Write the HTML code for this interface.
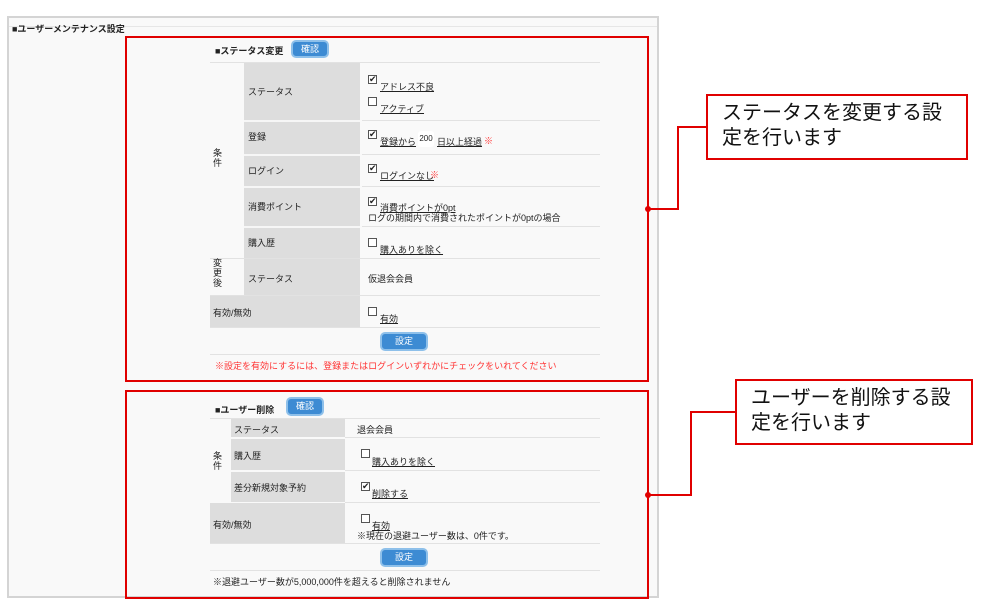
<!DOCTYPE html>
<html><head><meta charset="utf-8"><style>
body{margin:0;width:1001px;height:605px;background:#fff;position:relative;overflow:hidden;font-family:"Liberation Sans","Noto Sans CJK JP",sans-serif;font-size:9px;color:#222}
div{position:absolute;box-sizing:border-box}
.lab{background:#ddd}
.hl{height:1px;background:#e2e2e2}
.btn{background:#3d8bd3;border:2px solid #8ec0ea;border-radius:5px;color:#fff;text-align:center;font-size:9px}
.cb{width:9px;height:9px;border:1px solid #555;background:#fff;font-size:9px;line-height:7px;text-align:center}
.u{text-decoration:underline}
.red{border:2px solid #e00000}
.co{border:2px solid #e00000;background:#fff;font-size:20px;line-height:25px;padding:5px 0 0 14px;color:#111;white-space:nowrap}
.ln{background:#e00000}
.dot{width:6px;height:6px;border-radius:3px;background:#e00000}
</style></head><body>
<div style="left:7px;top:16px;width:652px;height:582px;border:2px solid #d4d4d4;background:#f9f9f9"></div>
<div style="left:9px;top:26px;width:648px;height:1px;background:#e6e6e6"></div>
<div style="left:12px;top:22px;font-weight:bold;font-size:9px">■ユーザーメンテナンス設定</div>

<!-- table 1 -->
<div style="left:215px;top:44px;font-weight:bold">■ステータス変更</div>
<div class="btn" style="left:291px;top:40px;width:38px;height:18px;line-height:14px">確認</div>
<div class="hl" style="left:210px;top:62px;width:390px"></div>
<div class="lab" style="left:244px;top:63px;width:116px;height:232px"></div>
<div class="lab" style="left:210px;top:296px;width:150px;height:31px"></div>
<div class="hl" style="left:362px;top:120px;width:238px"></div>
<div class="hl" style="left:362px;top:154px;width:238px"></div>
<div class="hl" style="left:362px;top:186px;width:238px"></div>
<div class="hl" style="left:362px;top:226px;width:238px"></div>
<div class="hl" style="left:210px;top:258px;width:390px"></div>
<div class="hl" style="left:210px;top:295px;width:390px"></div>
<div class="hl" style="left:210px;top:327px;width:390px"></div>
<div style="left:244px;top:120px;width:116px;height:2px;background:#f6f6f6"></div>
<div style="left:244px;top:154px;width:116px;height:2px;background:#f6f6f6"></div>
<div style="left:244px;top:186px;width:116px;height:2px;background:#f6f6f6"></div>
<div style="left:244px;top:226px;width:116px;height:2px;background:#f6f6f6"></div>
<div style="left:213px;top:148px;width:10px;line-height:10px">条件</div>
<div style="left:213px;top:258px;width:10px;line-height:10px">変更後</div>
<div style="left:248px;top:85px">ステータス</div>
<div style="left:248px;top:130px">登録</div>
<div style="left:248px;top:164px">ログイン</div>
<div style="left:248px;top:200px">消費ポイント</div>
<div style="left:248px;top:236px">購入歴</div>
<div style="left:248px;top:272px">ステータス</div>
<div style="left:213px;top:306px">有効/無効</div>
<div class="cb" style="left:368px;top:75px">✔</div><div class="u" style="left:380px;top:80px">アドレス不良</div>
<div class="cb" style="left:368px;top:97px"></div><div class="u" style="left:380px;top:102px">アクティブ</div>
<div class="cb" style="left:368px;top:130px">✔</div><div class="u" style="left:380px;top:135px">登録から</div>
<div style="left:418px;top:131px;width:16px;height:16px;background:#fff;border-radius:3px;text-align:center;line-height:16px;font-size:8px">200</div>
<div class="u" style="left:437px;top:135px">日以上経過</div><div style="left:484px;top:134px;color:#f33">※</div>
<div class="cb" style="left:368px;top:164px">✔</div><div class="u" style="left:380px;top:169px">ログインなし</div><div style="left:430px;top:168px;color:#f33">※</div>
<div class="cb" style="left:368px;top:197px">✔</div><div class="u" style="left:380px;top:201px">消費ポイントが0pt</div>
<div style="left:368px;top:211px">ログの期間内で消費されたポイントが0ptの場合</div>
<div class="cb" style="left:368px;top:238px"></div><div class="u" style="left:380px;top:243px">購入ありを除く</div>
<div style="left:368px;top:272px">仮退会会員</div>
<div class="cb" style="left:368px;top:307px"></div><div class="u" style="left:380px;top:312px">有効</div>
<div class="btn" style="left:380px;top:332px;width:48px;height:19px;line-height:15px">設定</div>
<div class="hl" style="left:210px;top:354px;width:390px"></div>
<div style="left:215px;top:359px;color:#f33">※設定を有効にするには、登録またはログインいずれかにチェックをいれてください</div>

<!-- table 2 -->
<div style="left:215px;top:403px;font-weight:bold">■ユーザー削除</div>
<div class="btn" style="left:286px;top:397px;width:38px;height:19px;line-height:15px">確認</div>
<div class="hl" style="left:210px;top:418px;width:390px"></div>
<div class="lab" style="left:231px;top:419px;width:114px;height:18px"></div>
<div class="lab" style="left:231px;top:439px;width:114px;height:31px"></div>
<div class="lab" style="left:231px;top:472px;width:114px;height:30px"></div>
<div class="lab" style="left:210px;top:503px;width:135px;height:40px"></div>
<div class="hl" style="left:345px;top:437px;width:255px"></div>
<div class="hl" style="left:345px;top:470px;width:255px"></div>
<div class="hl" style="left:345px;top:502px;width:255px"></div>
<div class="hl" style="left:210px;top:543px;width:390px"></div>
<div style="left:213px;top:451px;width:10px;line-height:10px">条件</div>
<div style="left:234px;top:423px">ステータス</div>
<div style="left:234px;top:449px">購入歴</div>
<div style="left:234px;top:481px">差分新規対象予約</div>
<div style="left:213px;top:518px">有効/無効</div>
<div style="left:357px;top:423px">退会会員</div>
<div class="cb" style="left:361px;top:449px"></div><div class="u" style="left:372px;top:455px">購入ありを除く</div>
<div class="cb" style="left:361px;top:482px">✔</div><div class="u" style="left:372px;top:487px">削除する</div>
<div class="cb" style="left:361px;top:514px"></div><div class="u" style="left:372px;top:519px">有効</div>
<div style="left:357px;top:529px">※現在の退避ユーザー数は、0件です。</div>
<div class="btn" style="left:380px;top:548px;width:48px;height:19px;line-height:15px">設定</div>
<div class="hl" style="left:210px;top:570px;width:390px"></div>
<div style="left:213px;top:575px">※退避ユーザー数が5,000,000件を超えると削除されません</div>

<!-- red boxes -->
<div class="red" style="left:125px;top:36px;width:524px;height:346px"></div>
<div class="red" style="left:125px;top:390px;width:524px;height:209px"></div>

<!-- connectors -->
<div class="dot" style="left:645px;top:206px"></div>
<div class="ln" style="left:648px;top:208px;width:31px;height:2px"></div>
<div class="ln" style="left:677px;top:126px;width:2px;height:84px"></div>
<div class="ln" style="left:677px;top:126px;width:31px;height:2px"></div>
<div class="dot" style="left:645px;top:492px"></div>
<div class="ln" style="left:648px;top:494px;width:44px;height:2px"></div>
<div class="ln" style="left:690px;top:411px;width:2px;height:85px"></div>
<div class="ln" style="left:690px;top:411px;width:47px;height:2px"></div>

<div class="co" style="left:706px;top:94px;width:262px;height:66px">ステータスを変更する設<br>定を行います</div>
<div class="co" style="left:735px;top:379px;width:238px;height:66px">ユーザーを削除する設<br>定を行います</div>
</body></html>
